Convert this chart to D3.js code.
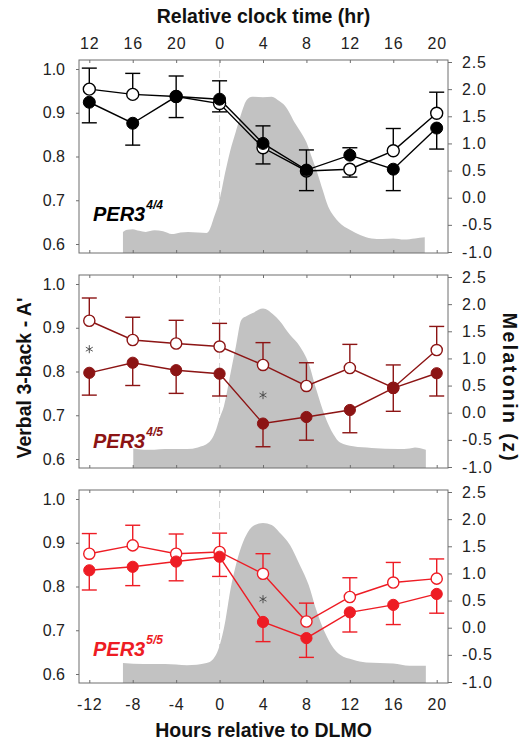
<!DOCTYPE html>
<html>
<head>
<meta charset="utf-8">
<script src="https://cdn.jsdelivr.net/npm/d3@7"></script>
<style>
  body { margin: 0; background: #fff; }
  svg text { font-family: "Liberation Sans", Arial, Helvetica, sans-serif; }
</style>
</head>
<body>
<div id="chart"></div>
<script>
// x positions (hours relative to DLMO) and the clock-time labels on top
var hours = [-12, -8, -4, 0, 4, 8, 12, 16, 20];
var clockLabels = ["12", "16", "20", "0", "4", "8", "12", "16", "20"];
var leftTicks = [0.6, 0.7, 0.8, 0.9, 1.0];
var rightTicks = [-1.0, -0.5, 0.0, 0.5, 1.0, 1.5, 2.0, 2.5];

// PER3 4/4
var open44 = [0.954, 0.942, 0.937, 0.921, 0.820, 0.767, 0.771, 0.813, 0.899];
var filled44 = [0.924, 0.876, 0.937, 0.931, 0.830, 0.769, 0.803, 0.771, 0.865];
var openErr44 = [0.048, 0.048, 0.047, 0.019, 0.037, 0.045, 0.018, 0.051, 0.048];
var filledErr44 = [0.047, 0.050, 0.048, 0.042, 0.040, 0.046, 0.017, 0.049, 0.048];
var melHours44 = [-8.9, -8.5, -8, -7.4, -6.8, -6, -5.2, -4.4, -3.6, -2.9, -2, -1.2, -1, -0.5, 0, 0.5, 1, 1.5, 2, 2.5, 3, 4, 4.8, 5.5, 6, 7, 7.5, 8, 8.5, 9, 9.5, 10, 10.5, 11, 12, 13, 14, 15, 16, 17, 18, 18.9];
var mel44 = [-0.63, -0.59, -0.58, -0.61, -0.63, -0.60, -0.62, -0.67, -0.64, -0.63, -0.64, -0.65, -0.62, -0.35, -0.04, 0.45, 0.88, 1.22, 1.55, 1.80, 1.86, 1.85, 1.86, 1.78, 1.70, 1.36, 1.20, 1.02, 0.74, 0.46, 0.14, -0.16, -0.33, -0.45, -0.59, -0.69, -0.75, -0.76, -0.75, -0.77, -0.75, -0.73];
var sig44 = [];

// PER3 4/5
var open45 = [0.916, 0.872, 0.864, 0.857, 0.815, 0.767, 0.808, 0.763, 0.849];
var filled45 = [0.797, 0.820, 0.803, 0.795, 0.681, 0.696, 0.712, 0.762, 0.796];
var openErr45 = [0.052, 0.052, 0.053, 0.053, 0.051, 0.053, 0.054, 0.052, 0.054];
var filledErr45 = [0.051, 0.052, 0.053, 0.051, 0.053, 0.053, 0.052, 0.053, 0.052];
var melHours45 = [-7.95, -7, -6, -5, -4, -3, -2, -1, -0.3, 0, 0.4, 1, 1.5, 2, 2.5, 3, 4, 5, 5.5, 6.5, 7.4, 8.2, 8.9, 9.7, 10.5, 11.1, 12.3, 14, 16.5, 17.5, 18, 19];
var mel45 = [-0.66, -0.68, -0.68, -0.67, -0.67, -0.67, -0.64, -0.55, -0.30, -0.10, 0.12, 0.72, 1.22, 1.71, 1.78, 1.83, 1.92, 1.80, 1.70, 1.43, 1.22, 0.91, 0.43, -0.06, -0.40, -0.55, -0.62, -0.65, -0.67, -0.66, -0.64, -0.68];
var sig45 = [[-12, 0.851], [4, 0.746]];

// PER3 5/5
var open55 = [0.875, 0.894, 0.875, 0.879, 0.829, 0.720, 0.776, 0.809, 0.818];
var filled55 = [0.837, 0.845, 0.857, 0.868, 0.719, 0.682, 0.741, 0.758, 0.783];
var openErr55 = [0.046, 0.046, 0.045, 0.043, 0.046, 0.042, 0.044, 0.046, 0.045];
var filledErr55 = [0.045, 0.043, 0.044, 0.045, 0.045, 0.044, 0.045, 0.045, 0.044];
var melHours55 = [-8.9, -7, -5, -3, -1.2, -0.6, 0, 0.5, 1, 1.5, 2, 2.6, 3.25, 4, 4.8, 5.5, 6.5, 7.4, 8.2, 8.9, 9.7, 10.5, 11.1, 12.3, 13.5, 16, 17.5, 19];
var mel55 = [-0.65, -0.67, -0.67, -0.69, -0.65, -0.58, -0.33, 0.09, 0.70, 1.15, 1.49, 1.76, 1.89, 1.93, 1.89, 1.76, 1.52, 1.15, 0.79, 0.33, -0.09, -0.38, -0.50, -0.59, -0.64, -0.66, -0.70, -0.70];
var sig55 = [[4, 0.771]];

var panels = [
    { open: open44, filled: filled44, openErr: openErr44, filledErr: filledErr44, melH: melHours44, mel: mel44, sig: sig44, color: "#000000", sup: "4/4", r: 6, labelY: 221 },
    { open: open45, filled: filled45, openErr: openErr45, filledErr: filledErr45, melH: melHours45, mel: mel45, sig: sig45, color: "#8c1414", sup: "4/5", r: 5.6, labelY: 448 },
    { open: open55, filled: filled55, openErr: openErr55, filledErr: filledErr55, melH: melHours55, mel: mel55, sig: sig55, color: "#ee1c24", sup: "5/5", r: 5.6, labelY: 656 }
];

var W = 522, H = 745;
var boxL = 79, boxR = 448, boxH = 193;
var tops = [60, 275, 490];
var axisColor = "#6e6e6e";
var textColor = "#222";

var svg = d3.select("#chart").append("svg")
    .attr("width", W)
    .attr("height", H);

var x = d3.scaleLinear()
    .domain([-12, 20])
    .range([89.3, 436.7]);

function styleAxis(sel, ls) {
    sel.select(".domain").remove();
    sel.selectAll(".tick line").attr("stroke", axisColor);
    sel.selectAll(".tick text")
        .attr("fill", textColor)
        .style("font-size", "16px")
        .style("letter-spacing", ls + "px");
}

panels.forEach(function (p, k) {
    var top = tops[k];
    var bot = top + boxH;
    var yL = d3.scaleLinear().domain([0.6, 1.0]).range([top + 184, top + 9]);
    var yR = d3.scaleLinear().domain([-1.0, 2.5]).range([top + 192, top + 2]);
    var g = svg.append("g");

    // DLMO dashed marker
    g.append("line")
        .attr("x1", x(0)).attr("x2", x(0))
        .attr("y1", top).attr("y2", bot)
        .attr("stroke", "#d4d4d4")
        .attr("stroke-dasharray", "7,4");

    // melatonin profile
    var area = d3.area()
        .x(d => x(d[0]))
        .y0(bot)
        .y1(d => yR(d[1]))
        .curve(d3.curveMonotoneX);
    g.append("path")
        .datum(d3.zip(p.melH, p.mel))
        .attr("d", area)
        .attr("fill", "#c2c2c2");

    g.append("rect")
        .attr("x", boxL).attr("y", top)
        .attr("width", boxR - boxL).attr("height", boxH)
        .attr("fill", "none")
        .attr("stroke", axisColor);

    var left = g.append("g")
        .attr("transform", `translate(${boxL},0)`)
        .call(d3.axisLeft(yL).tickValues(leftTicks).tickFormat(d => d.toFixed(1)).tickSize(3).tickPadding(11));
    styleAxis(left, 0);

    var right = g.append("g")
        .attr("transform", `translate(${boxR},0)`)
        .call(d3.axisRight(yR).tickValues(rightTicks).tickFormat(d => d.toFixed(1)).tickSize(4).tickPadding(10));
    styleAxis(right, 0.8);

    var bottomAxis = d3.axisBottom(x).tickValues(hours).tickSizeInner(-3).tickSizeOuter(0).tickPadding(16);
    bottomAxis.tickFormat(k === 2 ? (d => String(d)) : "");
    var bx = g.append("g").attr("transform", `translate(0,${bot})`).call(bottomAxis);
    styleAxis(bx, 0.8);

    var topAxis = d3.axisTop(x).tickValues(hours).tickSizeInner(-3).tickSizeOuter(0).tickPadding(11);
    topAxis.tickFormat(k === 0 ? ((d, i) => clockLabels[i]) : "");
    var tx = g.append("g").attr("transform", `translate(0,${top})`).call(topAxis);
    styleAxis(tx, 0.8);

    // error bars: the higher series gets the upper bar, the lower one the lower bar
    var bars = [];
    hours.forEach(function (h, i) {
        var openUp = p.open[i] >= p.filled[i];
        bars.push([h, p.open[i], openUp ? p.open[i] + p.openErr[i] : p.open[i] - p.openErr[i]]);
        bars.push([h, p.filled[i], openUp ? p.filled[i] - p.filledErr[i] : p.filled[i] + p.filledErr[i]]);
    });
    var eb = g.append("g")
        .attr("stroke", p.color)
        .attr("stroke-width", 1.4);
    eb.selectAll(".stem")
        .data(bars)
        .enter().append("line")
        .attr("x1", d => x(d[0])).attr("x2", d => x(d[0]))
        .attr("y1", d => yL(d[1])).attr("y2", d => yL(d[2]));
    eb.selectAll(".cap")
        .data(bars)
        .enter().append("line")
        .attr("x1", d => x(d[0]) - 7.5).attr("x2", d => x(d[0]) + 7.5)
        .attr("y1", d => yL(d[2])).attr("y2", d => yL(d[2]));

    var line = d3.line()
        .x(d => x(d[0]))
        .y(d => yL(d[1]));
    [p.open, p.filled].forEach(function (vals) {
        g.append("path")
            .datum(d3.zip(hours, vals))
            .attr("d", line)
            .attr("fill", "none")
            .attr("stroke", p.color)
            .attr("stroke-width", 1.4);
    });

    g.selectAll(".openPt")
        .data(d3.zip(hours, p.open))
        .enter().append("circle")
        .attr("cx", d => x(d[0]))
        .attr("cy", d => yL(d[1]))
        .attr("r", p.r)
        .attr("fill", "white")
        .attr("stroke", p.color)
        .attr("stroke-width", 1.4);

    g.selectAll(".filledPt")
        .data(d3.zip(hours, p.filled))
        .enter().append("circle")
        .attr("cx", d => x(d[0]))
        .attr("cy", d => yL(d[1]))
        .attr("r", p.r)
        .attr("fill", p.color)
        .attr("stroke", p.color)
        .attr("stroke-width", 1);

    // significance asterisks
    g.selectAll(".sig")
        .data(p.sig)
        .enter().append("path")
        .attr("d", d3.symbol(d3.symbolAsterisk, 45))
        .attr("transform", d => `translate(${x(d[0])},${yL(d[1])})`)
        .attr("fill", "none")
        .attr("stroke", "#444")
        .attr("stroke-width", 0.9);

    var lbl = g.append("text")
        .attr("x", 93)
        .attr("y", p.labelY)
        .attr("fill", p.color)
        .style("font-size", "20px")
        .style("font-weight", "bold")
        .style("font-style", "italic")
        .text("PER3");
    lbl.append("tspan")
        .attr("dy", -12)
        .attr("dx", 1)
        .style("font-size", "12px")
        .text(p.sup);
});

// axis titles
svg.append("text")
    .attr("x", (boxL + boxR) / 2)
    .attr("y", 23)
    .attr("text-anchor", "middle")
    .attr("fill", "#111")
    .style("font-size", "19.5px")
    .style("font-weight", "bold")
    .text("Relative clock time (hr)");

svg.append("text")
    .attr("x", (boxL + boxR) / 2)
    .attr("y", 737)
    .attr("text-anchor", "middle")
    .attr("fill", "#111")
    .style("font-size", "19.5px")
    .style("font-weight", "bold")
    .text("Hours relative to DLMO");

svg.append("text")
    .attr("transform", "translate(31,378) rotate(-90)")
    .attr("text-anchor", "middle")
    .attr("fill", "#111")
    .style("font-size", "19.5px")
    .style("font-weight", "bold")
    .text("Verbal 3-back - A'");

svg.append("text")
    .attr("transform", "translate(503,388) rotate(90)")
    .attr("text-anchor", "middle")
    .attr("fill", "#111")
    .style("font-size", "19.5px")
    .style("font-weight", "bold")
    .style("letter-spacing", "2.4px")
    .text("Melatonin (z)");
</script>
</body>
</html>
